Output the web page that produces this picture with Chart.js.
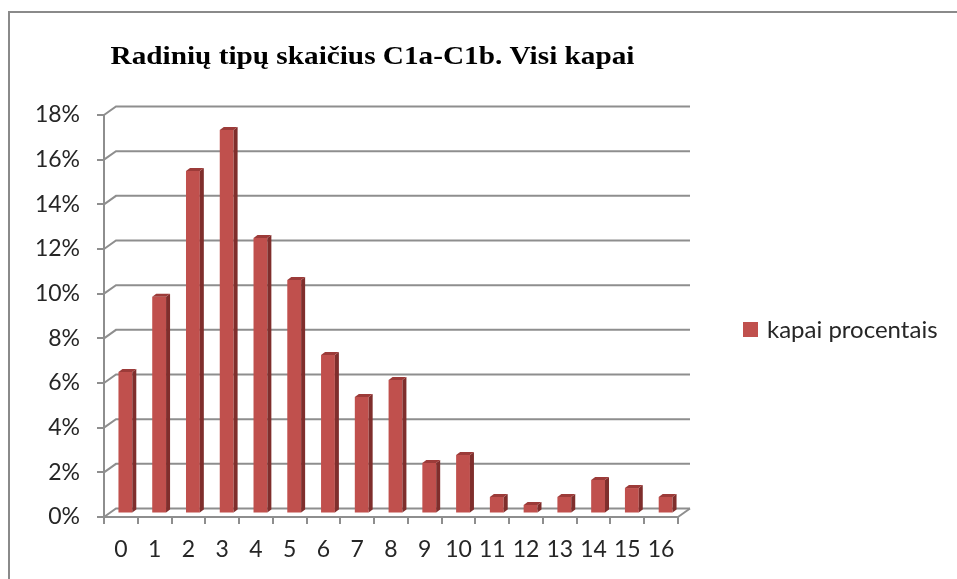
<!DOCTYPE html>
<html>
<head>
<meta charset="utf-8">
<script src="https://cdn.jsdelivr.net/npm/chart.js@4"></script>
<style>
  html, body { margin: 0; padding: 0; background: #fff; }
  #wrap { width: 957px; height: 579px; }
</style>
</head>
<body>
<div id="wrap"><canvas id="chart" width="957" height="579"></canvas></div>
<script>
// data
const categories = ["0", "1", "2", "3", "4", "5", "6", "7", "8", "9", "10", "11", "12", "13", "14", "15", "16"];
const kapaiProcentais = [6.34, 9.7, 15.34, 17.17, 12.34, 10.46, 7.1, 5.22, 5.98, 2.26, 2.62, 0.74, 0.38, 0.74, 1.5, 1.14, 0.74];
const yMax = 18;
const yStep = 2;
const chartTitle = "Radinių tipų skaičius C1a-C1b. Visi kapai";
const seriesName = "kapai procentais";

const GRID = "#8e8e8e";
const BAR = "#c0504d";
const BAR_SIDE = "#7f2e2c";
const BAR_TOP = "#9c3b39";
const DEPTH_X = 12, DEPTH_Y = 8.5;   // back wall offset
const BAR_SHIFT_X = 4.5, BAR_SHIFT_Y = -3.5; // bars sit mid-depth

// fake excel 3d look: back wall grid, bar sides, frame, title, legend
const excel3d = {
  id: "excel3d",
  beforeDraw(chart) {
    const ctx = chart.ctx;
    ctx.save();
    ctx.strokeStyle = "#8a8a8a";
    ctx.lineWidth = 2;
    ctx.strokeRect(9, 12, 1100, 1100);
    ctx.restore();
  },
  beforeDatasetsDraw(chart) {
    const ctx = chart.ctx;
    const x = chart.scales.x, y = chart.scales.y;
    ctx.save();
    ctx.strokeStyle = GRID;
    ctx.lineWidth = 2;
    y.ticks.forEach(t => {
      const yf = y.getPixelForValue(t.value);
      ctx.beginPath();
      ctx.moveTo(x.left, yf);
      ctx.lineTo(x.left + DEPTH_X, yf - DEPTH_Y);
      ctx.lineTo(x.right + DEPTH_X, yf - DEPTH_Y);
      ctx.stroke();
    });
    // right edge of the floor
    const y0 = y.getPixelForValue(0);
    ctx.beginPath();
    ctx.moveTo(x.right, y0);
    ctx.lineTo(x.right + DEPTH_X, y0 - DEPTH_Y);
    ctx.stroke();
    ctx.restore();

    ctx.save();
    ctx.translate(BAR_SHIFT_X, BAR_SHIFT_Y);
  },
  afterDatasetsDraw(chart) {
    const ctx = chart.ctx;
    const meta = chart.getDatasetMeta(0);
    const d = 4, dy = 3;
    meta.data.forEach(el => {
      const p = el.getProps(["x", "y", "base", "width"], true);
      const l = p.x - p.width / 2, r = p.x + p.width / 2;
      ctx.fillStyle = BAR_SIDE;
      ctx.beginPath();
      ctx.moveTo(r, p.y);
      ctx.lineTo(r + d, p.y - dy);
      ctx.lineTo(r + d, p.base - dy);
      ctx.lineTo(r, p.base);
      ctx.closePath();
      ctx.fill();
      ctx.fillStyle = BAR_TOP;
      ctx.beginPath();
      ctx.moveTo(l, p.y);
      ctx.lineTo(l + d, p.y - dy);
      ctx.lineTo(r + d, p.y - dy);
      ctx.lineTo(r, p.y);
      ctx.closePath();
      ctx.fill();
    });
    ctx.restore();
  },
  afterDraw(chart) {
    const ctx = chart.ctx;
    ctx.save();
    // title (stretched wide like the original)
    ctx.translate(372.5, 64);
    ctx.scale(1.17, 1);
    ctx.fillStyle = "#000";
    ctx.font = "bold 25px 'Liberation Serif'";
    ctx.textAlign = "center";
    ctx.textBaseline = "alphabetic";
    ctx.fillText(chartTitle, 0, 0);
    ctx.restore();

    ctx.save();
    // legend
    ctx.fillStyle = BAR;
    ctx.fillRect(743, 322, 15, 15);
    ctx.fillStyle = "#262626";
    ctx.font = "24px Lato";
    ctx.textAlign = "left";
    ctx.textBaseline = "middle";
    ctx.fillText(seriesName, 767, 330);
    ctx.restore();
  }
};

new Chart(document.getElementById("chart"), {
  type: "bar",
  data: {
    labels: categories,
    datasets: [{
      label: seriesName,
      data: kapaiProcentais,
      backgroundColor: BAR,
      borderWidth: 0,
      categoryPercentage: 1,
      barPercentage: 0.41,
      clip: false
    }]
  },
  options: {
    responsive: false,
    animation: false,
    devicePixelRatio: 1,
    layout: { padding: { top: 115, right: 279, bottom: 0, left: 0 } },
    plugins: {
      legend: { display: false },
      title: { display: false },
      tooltip: { enabled: false }
    },
    scales: {
      x: {
        offset: true,
        afterFit(scale) { scale.height = 62; },
        grid: { offset: true, drawOnChartArea: false, drawTicks: true, tickLength: 7, color: GRID, lineWidth: 2 },
        border: { display: true, color: GRID, width: 2 },
        ticks: { color: "#262626", font: { family: "Lato", size: 23 }, padding: 12, maxRotation: 0, autoSkip: false }
      },
      y: {
        min: 0,
        max: yMax,
        afterFit(scale) { scale.width = 104; },
        grid: { drawOnChartArea: false, drawTicks: true, tickLength: 7, color: GRID, lineWidth: 2 },
        border: { display: true, color: GRID, width: 2 },
        ticks: {
          stepSize: yStep,
          color: "#262626",
          font: { family: "Lato", size: 23 },
          padding: 17,
          callback: v => v + "%"
        }
      }
    }
  },
  plugins: [excel3d]
});
</script>
</body>
</html>
